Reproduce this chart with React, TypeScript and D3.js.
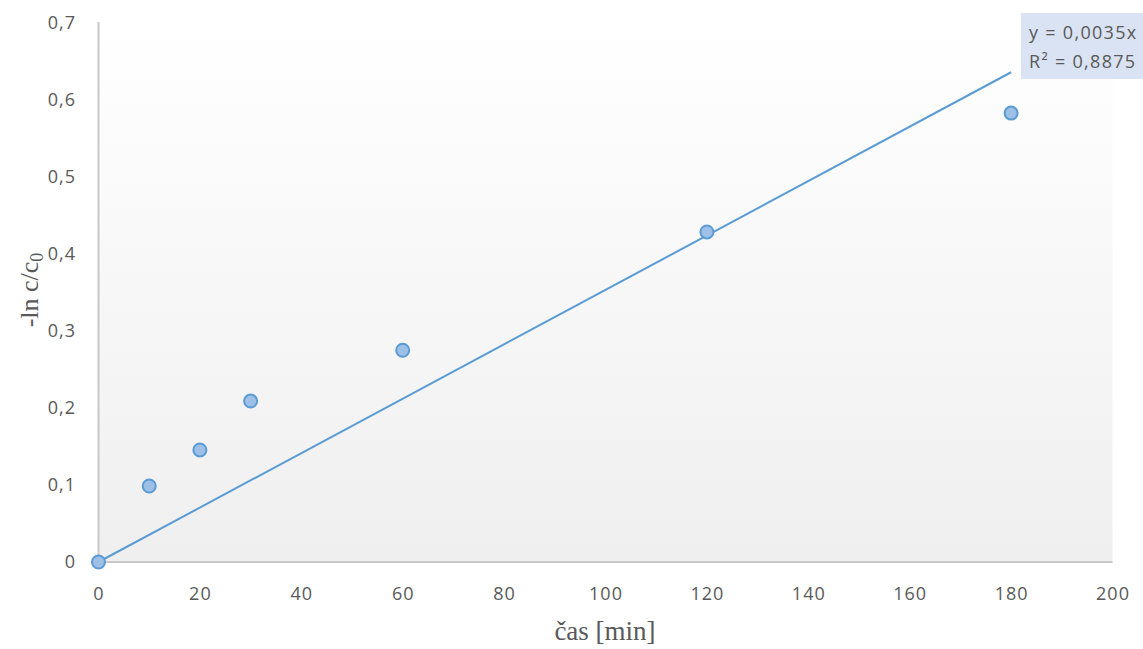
import React from "react";
import * as d3 from "d3";

const timeMin = [0, 10, 20, 30, 60, 120, 180];
const lnValues = [0, 0.0987, 0.1455, 0.209, 0.275, 0.4286, 0.583];
const xTicks = [0, 20, 40, 60, 80, 100, 120, 140, 160, 180, 200];
const yTicks = [0, 0.1, 0.2, 0.3, 0.4, 0.5, 0.6, 0.7];
const eqLines = ["y = 0,0035x", "R² = 0,8875"];

const W = 1143, H = 649;
const left = 98.5, right = 1112.5, top = 23, bottom = 562;

export default function App() {
  const x = d3.scaleLinear().domain([0, 200]).range([left, right]);
  const y = d3.scaleLinear().domain([0, 0.7]).range([bottom, top]);
  const sxy = d3.sum(timeMin.map((t, i) => t * lnValues[i]));
  const sxx = d3.sum(timeMin.map((t) => t * t));
  const slope = sxy / sxx;
  const tMax = d3.max(timeMin)!;
  const line = d3.line<number>().x((t) => x(t)).y((t) => y(slope * t));
  const fmt = (v: number) => (v === 0 ? "0" : d3.format(".1f")(v).replace(".", ","));
  const font = "'Open Sans', Carlito, Calibri, sans-serif";
  const serif = "'Liberation Serif', 'Times New Roman', serif";
  return (
    <svg width={W} height={H} style={{ position: "absolute", left: 0, top: 0 }}>
      <defs>
        <linearGradient id="bg" x1="0" y1="0" x2="0" y2="1">
          <stop offset="0" stopColor="#ffffff" />
          <stop offset="1" stopColor="#efefef" />
        </linearGradient>
      </defs>
      <rect x={0} y={0} width={W} height={H} fill="#fff" />
      <rect x={left} y={top} width={right - left} height={bottom - top} fill="url(#bg)" />
      <line x1={left} x2={left} y1={top - 1} y2={bottom} stroke="#c8c8c8" strokeWidth={2} />
      <line x1={left - 1} x2={right} y1={bottom} y2={bottom} stroke="#c8c8c8" strokeWidth={2} />
      {yTicks.map((v) => (
        <text key={v} x={76} y={y(v)} dy="0.36em" textAnchor="end" fill="#595959" fontSize={18} letterSpacing={1} fontFamily={font}>
          {fmt(v)}
        </text>
      ))}
      {xTicks.map((v) => (
        <text key={v} x={x(v) + 0.5} y={600} textAnchor="middle" fill="#595959" fontSize={18} letterSpacing={1} fontFamily={font}>
          {v}
        </text>
      ))}
      <path d={line([0, tMax]) || ""} fill="none" stroke="#5b9bd5" strokeWidth={2} />
      {timeMin.map((t, i) => (
        <circle key={t} cx={x(t)} cy={y(lnValues[i])} r={6.5} fill="#9ec0e6" stroke="#5b9bd5" strokeWidth={2} />
      ))}
      <rect x={1021} y={13} width={122} height={66} fill="#dae3f3" />
      {eqLines.map((s, i) => (
        <text key={s} x={1029} y={39 + i * 29} fill="#595959" fontSize={18} letterSpacing={1.3} fontFamily={font}>
          {s}
        </text>
      ))}
      <text x={605} y={640} textAnchor="middle" fill="#595959" fontSize={27} fontFamily={serif}>
        čas [min]
      </text>
      <text transform="translate(38,290) rotate(-90)" textAnchor="middle" fill="#595959" fontSize={26} fontFamily={serif}>
        -ln c/c<tspan baselineShift="-5" fontSize={18}>0</tspan>
      </text>
    </svg>
  );
}
